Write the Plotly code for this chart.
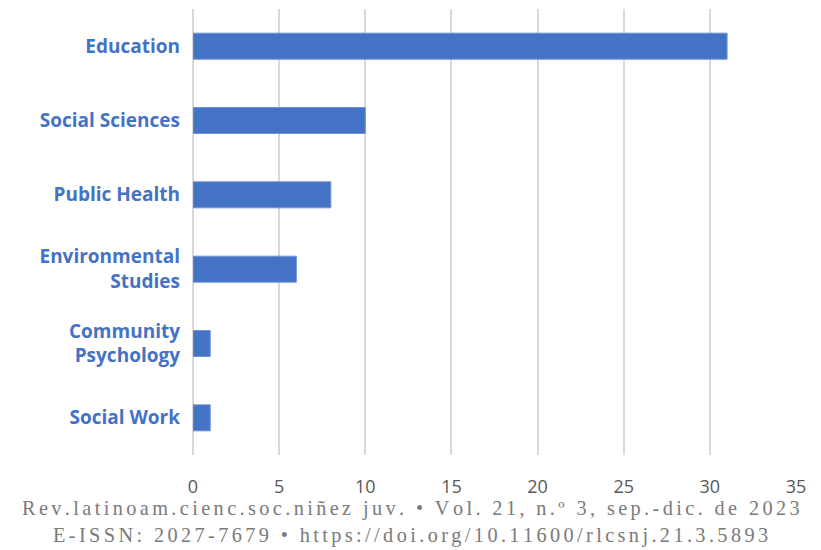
import plotly.graph_objects as go

# Number of studies by discipline
categories = ["Education", "Social Sciences", "Public Health",
              "Environmental<br>Studies", "Community<br>Psychology", "Social Work"]
counts = [31, 10, 8, 6, 1, 1]
x_ticks = [0, 5, 10, 15, 20, 25, 30, 35]

footer_lines = [
    "Rev.latinoam.cienc.soc.niñez juv. • Vol. 21, n.º 3, sep.-dic. de 2023",
    "E-ISSN: 2027-7679 • https://doi.org/10.11600/rlcsnj.21.3.5893",
]

FIG_W, FIG_H = 821, 550
MARGIN = dict(l=193, r=25, t=9, b=95)


def spaced(text, sep="\u200a\u200a"):
    # widen tracking with hair spaces between letters
    return sep.join(text)


fig = go.Figure(
    go.Bar(
        x=counts,
        y=categories,
        orientation="h",
        width=0.35,
        marker=dict(color="#4472C4", line=dict(color="#6f93d4", width=1)),
    )
)

fig.update_layout(
    width=FIG_W,
    height=FIG_H,
    margin=MARGIN,
    paper_bgcolor="white",
    plot_bgcolor="white",
    showlegend=False,
)

fig.update_xaxes(
    range=[0, 35],
    tickvals=x_ticks,
    showgrid=True,
    gridcolor="#d9d9d9",
    gridwidth=2,
    zeroline=True,
    zerolinecolor="#d9d9d9",
    zerolinewidth=2,
    showline=False,
    tickfont=dict(family="Open Sans", size=18, color="#595959"),
    ticklabelstandoff=19,
)

fig.update_yaxes(
    categoryorder="array",
    categoryarray=categories[::-1],
    range=[-0.5, 5.5],
    showgrid=False,
    showline=False,
    ticks="",
    tickfont=dict(family="Open Sans", size=19, color="#4472C4", weight=700),
    ticklabelstandoff=12,
)

# center the footer on the whole figure, not the plot area
plot_w = FIG_W - MARGIN["l"] - MARGIN["r"]
x_center = (FIG_W / 2 - MARGIN["l"]) / plot_w

for i, line in enumerate(footer_lines):
    fig.add_annotation(
        text=spaced(line),
        xref="paper", yref="paper",
        x=x_center, y=0, xanchor="center", yanchor="middle",
        yshift=-(53 + 27 * i),
        showarrow=False,
        font=dict(family="Liberation Serif", size=20.3, color="#7a7a7a"),
    )

fig.write_html("out.html")
